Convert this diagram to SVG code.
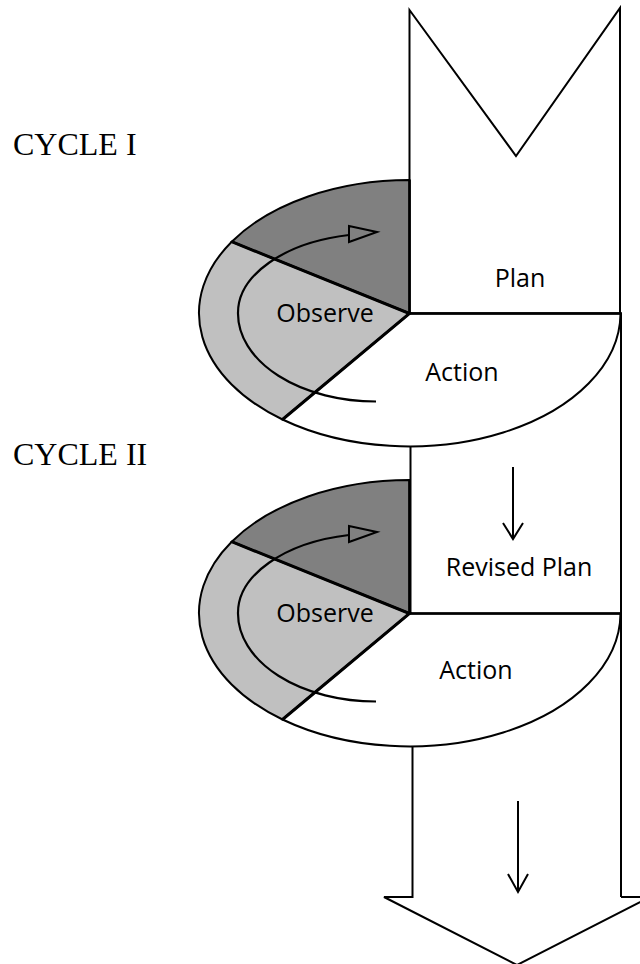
<svg xmlns="http://www.w3.org/2000/svg" width="640" height="964" viewBox="0 0 640 964">
<style>
.ol{fill:none;stroke:#000;stroke-width:2;stroke-linejoin:miter}
.wf{fill:#fff;stroke:#000;stroke-width:2}
.dk{fill:#808080;stroke:#000;stroke-width:2}
.lt{fill:#c0c0c0;stroke:#000;stroke-width:2}
.div{fill:none;stroke:#000;stroke-width:3}
.cyc{font-family:"Liberation Serif","Times New Roman",serif;font-size:32px;fill:#000}
.lbl{font-family:"Open Sans","Noto Sans",sans-serif;font-size:25px;fill:#000;text-anchor:middle}
.arr{fill:none;stroke:#000;stroke-width:2.2}
</style>
<rect width="640" height="964" fill="#fff"/>
<g id="cycle-labels">
<text class="cyc" x="13" y="155">CYCLE I</text>
<text class="cyc" x="13" y="465">CYCLE II</text>
</g>
<g id="plan">
<path class="wf" d="M409.5,10 L516,156 L620,8 L620,313.5 L409.5,313.5 Z"/>
<text class="lbl" x="520" y="287">Plan</text>
</g>
<g id="cycle1">
<path class="dk" d="M409.5,313.5 L409.5,180 A211,133.5 0 0,0 231.7,241.7 Z"/>
<path class="lt" d="M409.5,313.5 L231.7,241.7 A211,133.5 0 0,0 282.5,419.5 Z"/>
<path class="wf" d="M409.5,313.5 L282.5,419.5 A211,133.5 0 0,0 620.5,313.5 Z"/>
<path class="div" d="M231.7,241.7 L409.5,313.5 L282.5,419.5"/>
<line x1="409.5" y1="180" x2="409.5" y2="313.5" stroke="#000" stroke-width="2.5"/>
<line x1="409.5" y1="313.5" x2="622" y2="313.5" stroke="#000" stroke-width="2.5"/>
<text class="lbl" x="325" y="322">Observe</text>
<text class="lbl" x="462" y="381">Action</text>
</g>
<g id="revised-plan">
<path class="ol" d="M410.5,447 L410.5,613.5"/>
<text class="lbl" x="519" y="576">Revised Plan</text>
</g>
<g id="cycle2">
<path class="dk" d="M409.5,613.5 L409.5,480 A211,133.5 0 0,0 231.7,541.7 Z"/>
<path class="lt" d="M409.5,613.5 L231.7,541.7 A211,133.5 0 0,0 282.5,719.5 Z"/>
<path class="wf" d="M409.5,613.5 L282.5,719.5 A211,133.5 0 0,0 620.5,613.5 Z"/>
<path class="div" d="M231.7,541.7 L409.5,613.5 L282.5,719.5"/>
<line x1="409.5" y1="480" x2="409.5" y2="613.5" stroke="#000" stroke-width="2.5"/>
<line x1="409.5" y1="613.5" x2="622" y2="613.5" stroke="#000" stroke-width="2.5"/>
<text class="lbl" x="325" y="622">Observe</text>
<text class="lbl" x="476" y="679">Action</text>
</g>
<g id="outcome-arrow">
<path class="ol" d="M412.5,747 L412.5,897 L384,897 L517,965 L650,897 L621,897"/>
</g>
<g id="connectors">
<path class="ol" d="M621,313.5 L621,897"/>
<path class="arr" d="M376,401.5 A138,88 0 0,1 238,313.5 A138,79.5 0 0,1 349,235"/>
<polygon class="ol" points="349,226 377,232 349,242"/>
<path class="arr" d="M376,701.5 A138,88 0 0,1 238,613.5 A138,79.5 0 0,1 349,535"/>
<polygon class="ol" points="349,526 377,532 349,542"/>
<path class="ol" d="M513,467 L513,539 M503,523 L513,539 L523,523"/>
<path class="ol" d="M518,801 L518,892 M508,874 L518,892 L528,874"/>
</g>
</svg>
